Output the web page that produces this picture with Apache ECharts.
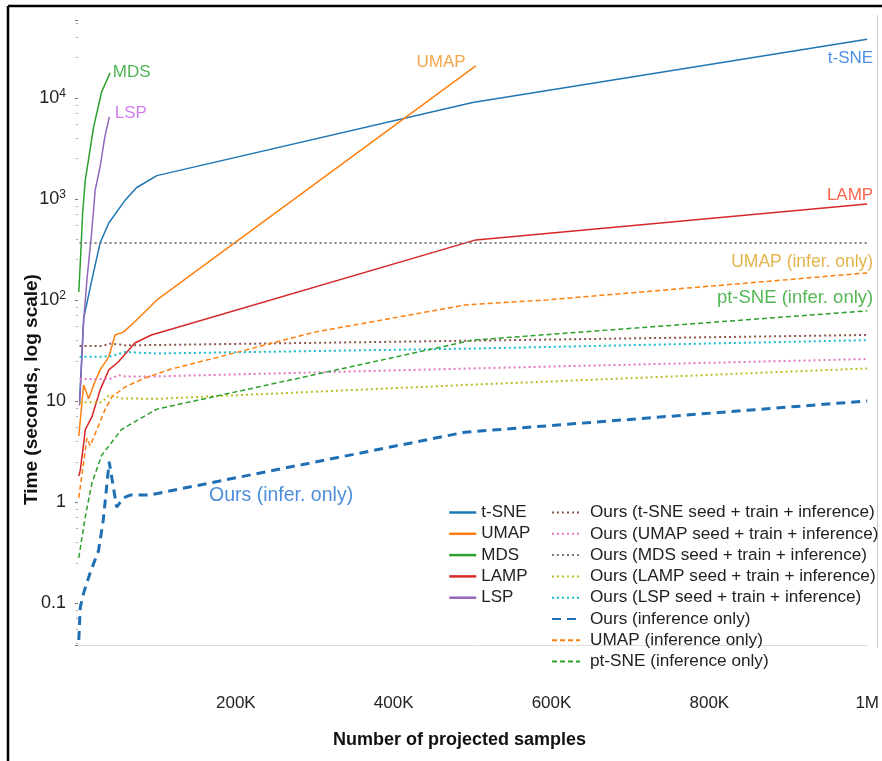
<!DOCTYPE html>
<html>
<head>
<meta charset="utf-8">
<script src="https://cdn.jsdelivr.net/npm/echarts@6/dist/echarts.min.js"></script>
<style>
body{margin:0;background:#fff;}
#timeline{width:882px;height:761px;}
</style>
</head>
<body>
<div id="timeline"></div>
<script>
// [samples, seconds]
var tsne = [[2000, 10], [7200, 66], [17600, 158], [28000, 367], [39000, 578], [60000, 977], [74000, 1290], [100000, 1700], [500000, 9000], [1000000, 38000]];
var umap = [[1000, 4.5], [7200, 14.4], [13500, 10.5], [19800, 14.4], [28000, 20.3], [39000, 27.3], [47000, 45], [57600, 48], [74000, 63], [100000, 100], [504000, 20700]];
var mds = [[1000, 120], [2900, 232], [5900, 726], [9200, 1540], [11300, 1940], [19800, 5160], [30000, 11500], [40700, 17700]];
var lamp = [[1000, 1.8], [2900, 2.07], [7200, 3.8], [9200, 5.2], [17600, 6.95], [28000, 12.8], [39000, 20.3], [51000, 24.3], [72000, 37.5], [93000, 45], [504000, 393], [1000000, 892]];
var lsp = [[2000, 9], [7200, 63], [11300, 158], [17600, 493], [21800, 1230], [28000, 2070], [34000, 4110], [39700, 6490]];

var oursTsne = [[2000, 35], [30000, 35], [42000, 37], [60000, 35.5], [100000, 35.8], [500000, 39.5], [1000000, 45]];
var oursUmap = [[2000, 16.5], [40000, 16.5], [52000, 18], [60000, 17.5], [100000, 17.5], [500000, 21], [1000000, 26]];
var oursMds = [[2000, 367], [1000000, 367]];
var oursLamp = [[2000, 9.7], [30000, 9.7], [40000, 11.5], [55000, 10.6], [100000, 10.5], [500000, 14.5], [1000000, 21]];
var oursLsp = [[2000, 27.3], [40000, 27.5], [60000, 30.5], [100000, 29.5], [500000, 33], [1000000, 40]];

var oursInfer = [[1000, 0.043], [2900, 0.091], [7200, 0.126], [15500, 0.2], [26000, 0.33], [32000, 0.66], [39500, 2.5], [49000, 0.89], [57600, 1.1], [66000, 1.17], [90000, 1.17], [490000, 4.9], [1000000, 10]];
var umapInfer = [[1000, 1.1], [11300, 4.3], [15500, 3.6], [34000, 8.1], [43000, 11], [60000, 13.8], [85000, 16.9], [118000, 20.7], [175000, 26.8], [300000, 48], [490000, 89], [594000, 100], [1000000, 185]];
var ptsneInfer = [[1000, 0.28], [9200, 0.71], [17600, 1.54], [30000, 2.9], [47000, 4.3], [55000, 5.2], [76000, 6.5], [100000, 8.3], [500000, 40], [1000000, 78]];

var xTicks = [200000, 400000, 600000, 800000, 1000000];
var xTickLabels = ['200K', '400K', '600K', '800K', '1M'];

// in-plot annotations: [text, samples, seconds, align, colour]
var notes = [
	['MDS', 44000, 18100, 'left', '#22a02a'],
	['LSP', 46600, 7100, 'left', '#c45ee8'],
	['UMAP', 460000, 22700, 'center', '#f0901c'],
	['t-SNE', 1000000, 24900, 'right', '#1f74e0'],
	['LAMP', 1000000, 1097, 'right', '#ff3c1e'],
	['UMAP (infer. only)', 1000000, 238, 'right', '#e0a020'],
	['pt-SNE (infer. only)', 1000000, 105, 'right', '#2aa52a'],
	['Ours (infer. only)', 166000, 1.15, 'left', '#1f6fd0']
];
var noteSizes = [17, 17, 17, 17, 17, 17.5, 18.5, 19.5];

var font = 'Liberation Sans';
var myChart = echarts.init(document.getElementById('timeline'));

function lineSeries(name, data, color, type, width) {
	return {
		name: name,
		type: 'line',
		symbol: 'none',
		data: data,
		itemStyle: { color: color },
		lineStyle: { color: color, width: width, type: type },
		emphasis: { disabled: true }
	};
}

var series = [
	lineSeries('t-SNE', tsne, '#1f77b4', 'solid', 1.5),
	lineSeries('UMAP', umap, '#ff7f0e', 'solid', 1.5),
	lineSeries('MDS', mds, '#2ca02c', 'solid', 1.5),
	lineSeries('LAMP', lamp, '#d62728', 'solid', 1.5),
	lineSeries('LSP', lsp, '#9467bd', 'solid', 1.5),
	lineSeries('Ours (t-SNE seed + train + inference)', oursTsne, '#8c564b', [2, 3], 2),
	lineSeries('Ours (UMAP seed + train + inference)', oursUmap, '#e377c2', [2, 3], 2),
	lineSeries('Ours (MDS seed + train + inference)', oursMds, '#7f7f7f', [2, 3], 2),
	lineSeries('Ours (LAMP seed + train + inference)', oursLamp, '#bcbd22', [2, 3], 2),
	lineSeries('Ours (LSP seed + train + inference)', oursLsp, '#17becf', [2, 3], 2),
	lineSeries('Ours (inference only)', oursInfer, '#1f6fb4', [9, 6], 3),
	lineSeries('UMAP (inference only)', umapInfer, '#ff7f0e', [5, 3], 1.5),
	lineSeries('pt-SNE (inference only)', ptsneInfer, '#2ca02c', [5, 3], 1.5)
];

var noteData = [];
for (var i = 0; i < notes.length; i++) {
	noteData.push({
		value: [notes[i][1], notes[i][2]],
		label: {
			show: true,
			position: 'inside',
			formatter: notes[i][0],
			align: notes[i][3],
			verticalAlign: 'middle',
			offset: notes[i][3] == 'right' ? [6, 0] : [0, 0],
			color: notes[i][4],
			fontSize: noteSizes[i],
			fontFamily: font
		}
	});
}
series.push({
	name: 'notes',
	type: 'scatter',
	symbolSize: 0,
	silent: true,
	clip: false,
	z: 5,
	data: noteData
});

option = {
	backgroundColor: '#fff',
	animation: false,
	grid: { left: 78, right: 10, top: 20, bottom: 116 },
	legend: [{
		orient: 'vertical',
		left: 443,
		top: 499,
		itemWidth: 27,
		itemHeight: 14,
		itemGap: 4.3,
		itemStyle: { opacity: 0 },
		lineStyle: { width: 2.5 },
		textStyle: { fontSize: 17, color: '#222', fontFamily: font },
		data: ['t-SNE', 'UMAP', 'MDS', 'LAMP', 'LSP']
	}, {
		orient: 'vertical',
		left: 546,
		top: 499,
		itemWidth: 28,
		itemHeight: 14,
		itemGap: 4.3,
		itemStyle: { opacity: 0 },
		textStyle: { fontSize: 17.2, color: '#222', fontFamily: font, padding: [0, 0, 0, 5] },
		data: ['Ours (t-SNE seed + train + inference)', 'Ours (UMAP seed + train + inference)',
			'Ours (MDS seed + train + inference)', 'Ours (LAMP seed + train + inference)',
			'Ours (LSP seed + train + inference)', 'Ours (inference only)',
			'UMAP (inference only)', 'pt-SNE (inference only)']
	}],
	xAxis: {
		type: 'value',
		min: 0,
		max: 1000000,
		interval: 200000,
		name: 'Number of projected samples',
		nameLocation: 'middle',
		nameGap: 86,
		nameMoveOverlap: false,
		nameTextStyle: { fontSize: 18, fontWeight: 'bold', color: '#111', fontFamily: font, padding: [0, 26, 0, 0] },
		axisLine: { lineStyle: { color: '#ddd' } },
		axisTick: { show: false },
		splitLine: { show: false },
		axisLabel: {
			margin: 50,
			fontSize: 17,
			color: '#222',
			fontFamily: font,
			formatter: function (v) {
				var k = xTicks.indexOf(v);
				return k < 0 ? '' : xTickLabels[k];
			}
		}
	},
	yAxis: {
		type: 'log',
		logBase: 10,
		min: 0.0384,
		max: 59000,
		name: 'Time (seconds, log scale)',
		nameLocation: 'middle',
		nameGap: 37,
		nameMoveOverlap: false,
		nameTextStyle: { fontSize: 19, fontWeight: 'bold', color: '#111', fontFamily: font, padding: [0, 114, 0, 0] },
		axisLine: { show: false },
		axisTick: { show: true, length: 3, lineStyle: { color: '#777' } },
		minorTick: { show: true, splitNumber: 6, length: 2, lineStyle: { color: '#aaa' } },
		splitLine: { show: false },
		axisLabel: {
			margin: 12,
			fontSize: 18,
			color: '#222',
			fontFamily: font,
			formatter: function (v) {
				var lg = Math.log(v) / Math.LN10;
				var e = Math.round(lg);
				if (Math.abs(lg - e) > 1e-6) return '';
				if (e >= 2) return '10{sup|' + e + '}';
				if (e === 1) return '10';
				if (e === 0) return '1';
				if (e === -1) return '0.1';
				return '';
			},
			rich: {
				sup: { fontSize: 12, padding: [0, 0, 9, 0], color: '#222', fontFamily: font }
			}
		}
	},
	graphic: [
		{ type: 'line', shape: { x1: 8, y1: 6, x2: 8, y2: 761 }, style: { stroke: '#000', lineWidth: 2.5 } },
		{ type: 'line', shape: { x1: 8, y1: 6, x2: 882, y2: 6 }, style: { stroke: '#000', lineWidth: 2.5 } },
		{ type: 'line', shape: { x1: 877.5, y1: 15, x2: 877.5, y2: 648 }, style: { stroke: '#ccc', lineWidth: 1 } }
	],
	series: series
};
myChart.setOption(option, true);
</script>
</body>
</html>
